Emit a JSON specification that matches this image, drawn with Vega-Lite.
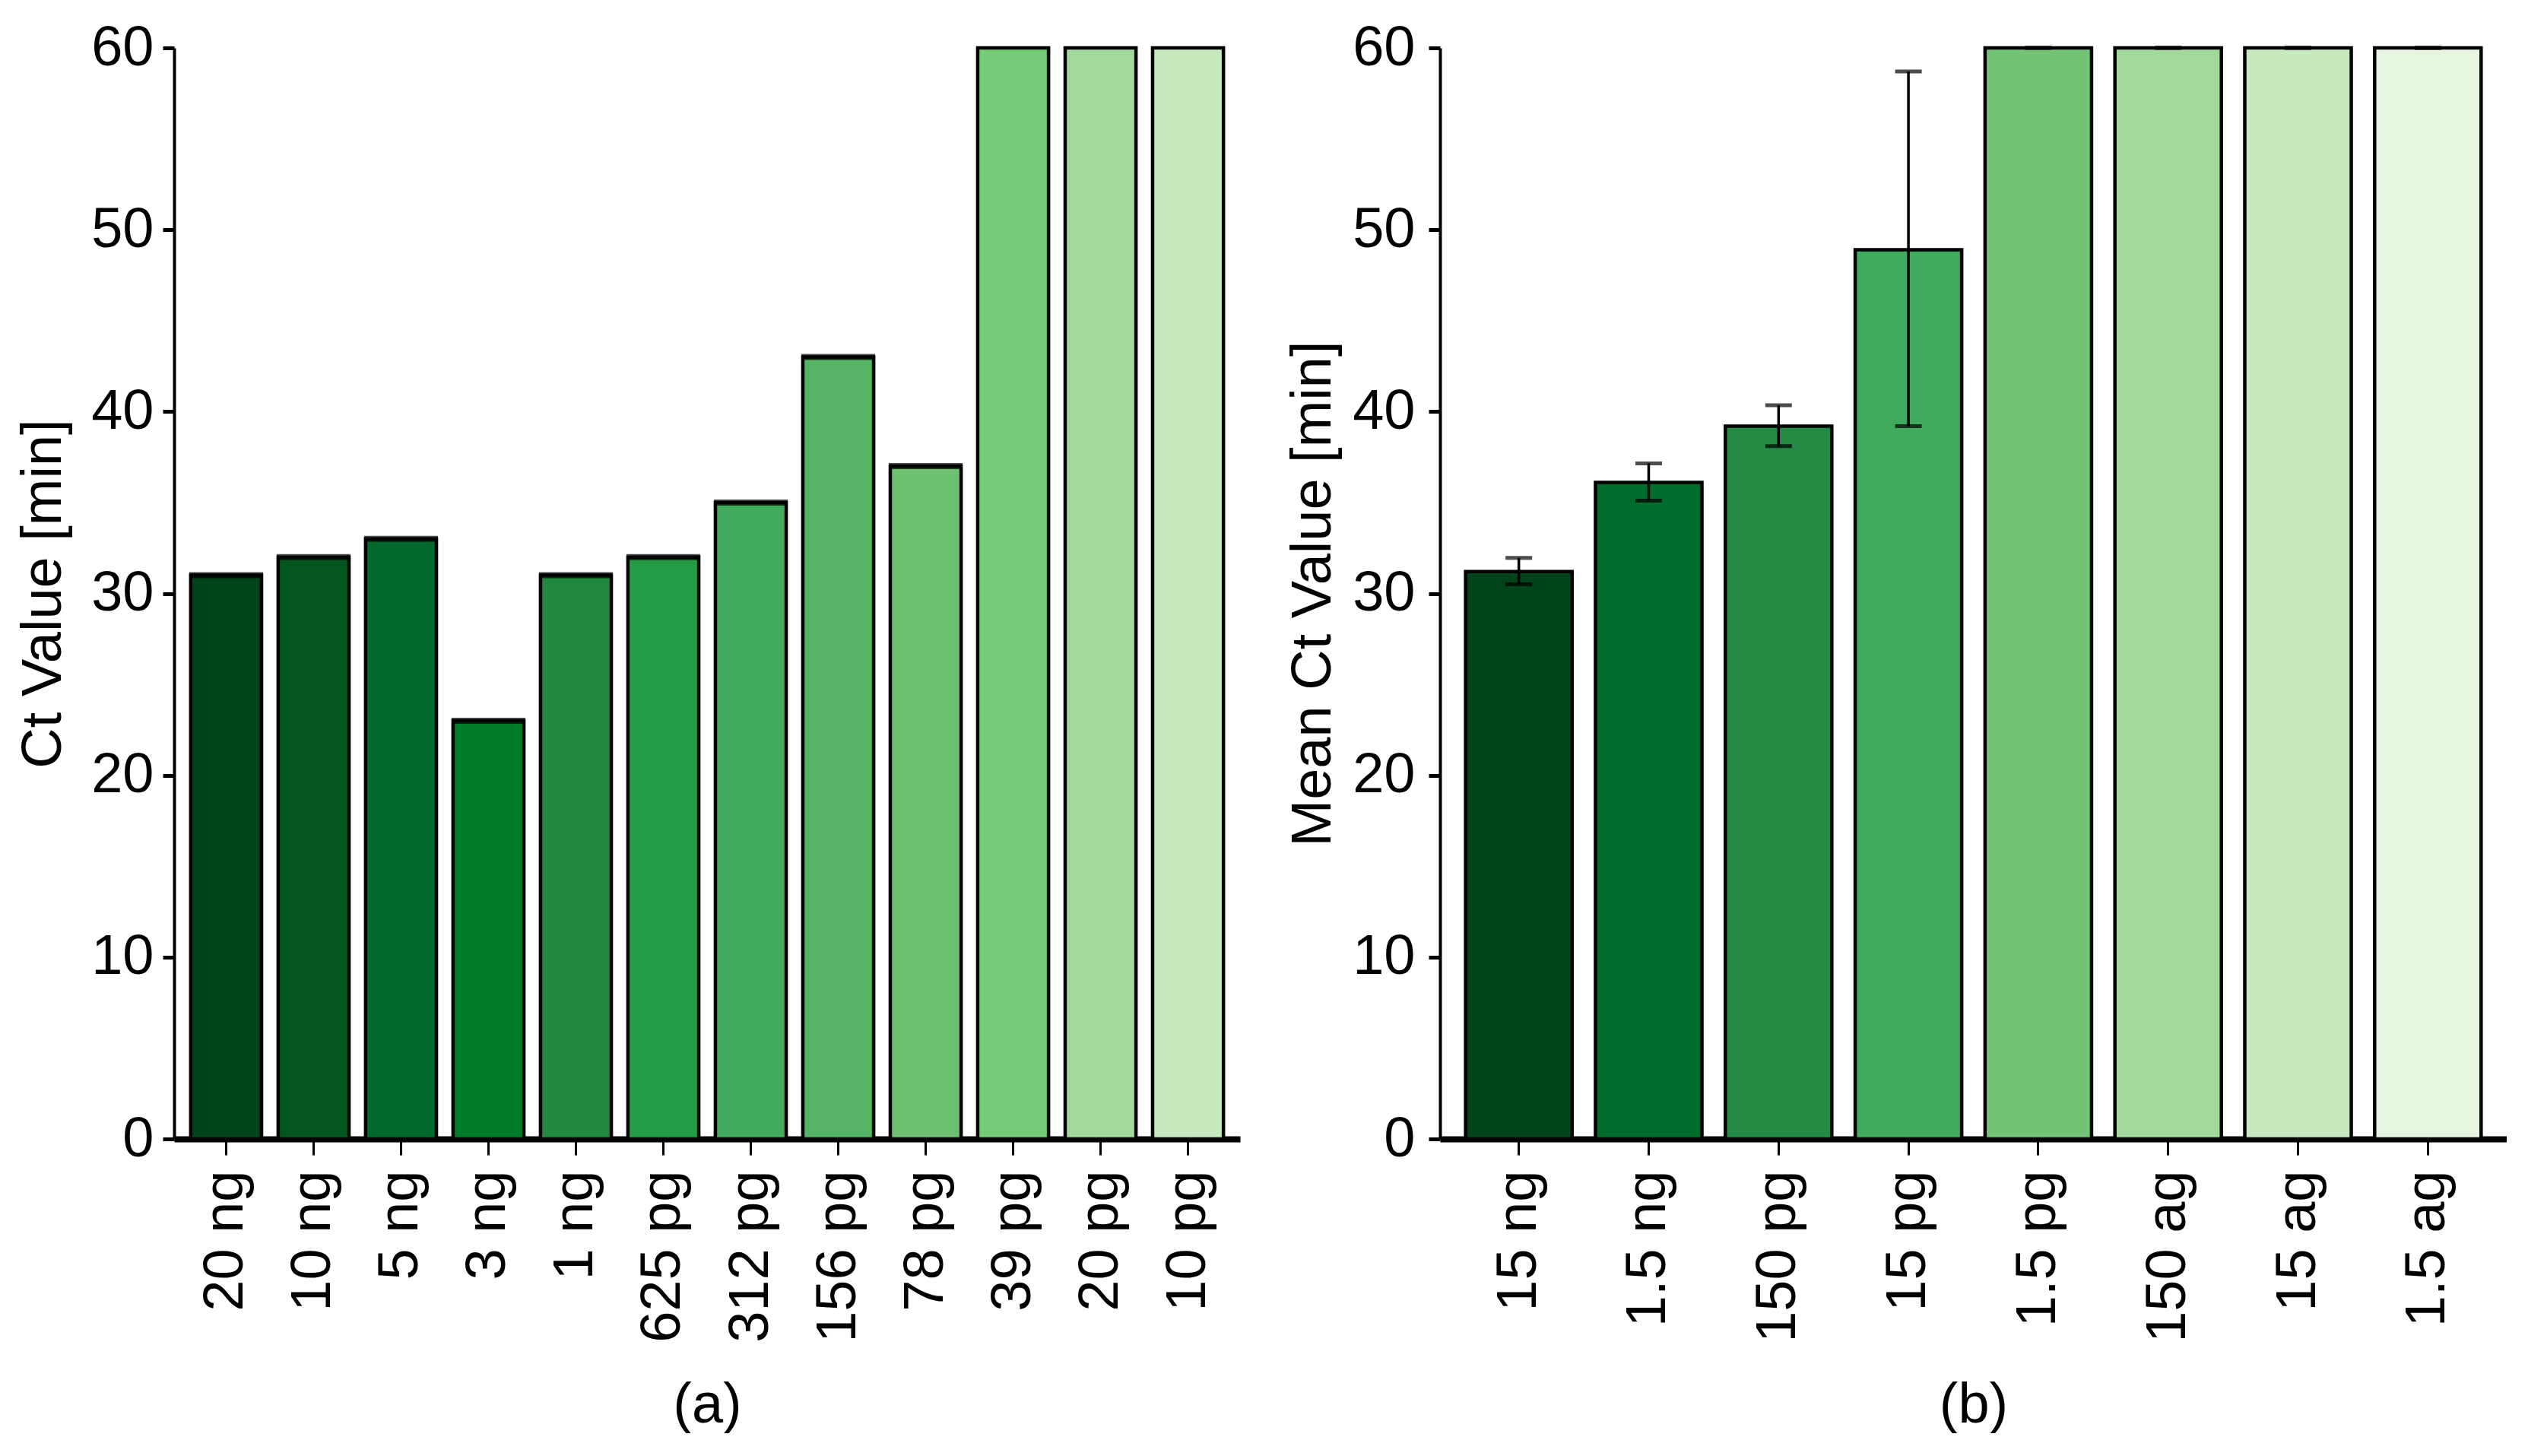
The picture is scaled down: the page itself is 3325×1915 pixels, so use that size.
{
  "$schema": "https://vega.github.io/schema/vega-lite/v6.json",
  "padding": {"left": 20, "top": 26, "right": 0, "bottom": 0},
  "background": "white",
  "config": {
    "font": "Liberation Sans",
    "view": {"stroke": null},
    "axis": {
      "labelFont": "Liberation Sans", "titleFont": "Liberation Sans",
      "labelFontSize": 74, "titleFontSize": 74,
      "labelColor": "black", "titleColor": "black",
      "domainColor": "black", "tickColor": "black",
      "grid": false, "titleFontWeight": "normal", "labelLimit": 0
    },
    "concat": {"spacing": 59}
  },
  "resolve": {"scale": {"fill": "independent", "x": "independent", "y": "independent"}},
  "datasets": {
    "a": [
      {"amount": "20 ng", "ct": 31},
      {"amount": "10 ng", "ct": 32},
      {"amount": "5 ng", "ct": 33},
      {"amount": "3 ng", "ct": 23},
      {"amount": "1 ng", "ct": 31},
      {"amount": "625 pg", "ct": 32},
      {"amount": "312 pg", "ct": 35},
      {"amount": "156 pg", "ct": 43},
      {"amount": "78 pg", "ct": 37},
      {"amount": "39 pg", "ct": 60},
      {"amount": "20 pg", "ct": 60},
      {"amount": "10 pg", "ct": 60}
    ],
    "b": [
      {"amount": "15 ng", "ct": 31.2, "lo": 30.5, "hi": 31.95},
      {"amount": "1.5 ng", "ct": 36.1, "lo": 35.1, "hi": 37.15},
      {"amount": "150 pg", "ct": 39.2, "lo": 38.1, "hi": 40.35},
      {"amount": "15 pg", "ct": 48.9, "lo": 39.2, "hi": 58.7},
      {"amount": "1.5 pg", "ct": 60, "lo": 60, "hi": 60},
      {"amount": "150 ag", "ct": 60, "lo": 60, "hi": 60},
      {"amount": "15 ag", "ct": 60, "lo": 60, "hi": 60},
      {"amount": "1.5 ag", "ct": 60, "lo": 60, "hi": 60}
    ]
  },
  "hconcat": [
    {
      "width": 1402,
      "height": 1435,
      "data": {"name": "a"},
      "encoding": {
        "x": {
          "field": "amount", "type": "nominal", "sort": null,
          "scale": {"paddingInner": 0.19, "paddingOuter": 0.19},
          "axis": {
            "title": "(a)", "labelAngle": -90, "labelPadding": 20,
            "tickSize": 21, "tickWidth": 3, "domainWidth": 8,
            "titleY": 372, "titleBaseline": "alphabetic"
          }
        }
      },
      "layer": [
        {
          "mark": {"type": "bar", "stroke": "black", "strokeWidth": 4.5},
          "encoding": {
            "y": {
              "field": "ct", "type": "quantitative",
              "scale": {"domain": [0, 60], "nice": false},
              "axis": {
                "title": "Ct Value [min]", "values": [0, 10, 20, 30, 40, 50, 60],
                "tickSize": 15, "tickWidth": 5, "domainWidth": 4,
                "labelPadding": 12, "titlePadding": 24
              }
            },
            "fill": {
              "field": "amount", "type": "nominal", "legend": null,
              "scale": {
                "domain": ["20 ng", "10 ng", "5 ng", "3 ng", "1 ng", "625 pg", "312 pg", "156 pg", "78 pg", "39 pg", "20 pg", "10 pg"],
                "range": ["#00441b", "#03571e", "#006a2d", "#007b2a", "#21883f", "#249c45", "#41ab5d", "#55b365", "#6cc070", "#76cb76", "#a1d99b", "#c7e9c0"]
              }
            }
          }
        },
        {
          "transform": [{"filter": "datum.ct < 60"}],
          "mark": {"type": "tick", "color": "black", "thickness": 8, "size": 97},
          "encoding": {"y": {"field": "ct", "type": "quantitative"}}
        }
      ]
    },
    {
      "width": 1403,
      "height": 1435,
      "data": {"name": "b"},
      "encoding": {
        "x": {
          "field": "amount", "type": "nominal", "sort": null,
          "scale": {"paddingInner": 0.18, "paddingOuter": 0.197},
          "axis": {
            "title": "(b)", "labelAngle": -90, "labelPadding": 20,
            "tickSize": 21, "tickWidth": 3, "domainWidth": 8,
            "titleY": 372, "titleBaseline": "alphabetic"
          }
        }
      },
      "layer": [
        {
          "mark": {"type": "bar", "stroke": "black", "strokeWidth": 4.5},
          "encoding": {
            "y": {
              "field": "ct", "type": "quantitative",
              "scale": {"domain": [0, 60], "nice": false},
              "axis": {
                "title": "Mean Ct Value [min]", "values": [0, 10, 20, 30, 40, 50, 60],
                "tickSize": 15, "tickWidth": 5, "domainWidth": 4,
                "labelPadding": 18, "titlePadding": 13
              }
            },
            "fill": {
              "field": "amount", "type": "nominal", "legend": null,
              "scale": {
                "domain": ["15 ng", "1.5 ng", "150 pg", "15 pg", "1.5 pg", "150 ag", "15 ag", "1.5 ag"],
                "range": ["#00441b", "#006d2c", "#238b45", "#41ab5d", "#74c476", "#a1d99b", "#c7e9c0", "#e5f5e0"]
              }
            }
          }
        },
        {
          "mark": {"type": "rule", "color": "black", "strokeWidth": 3.5},
          "encoding": {
            "y": {"field": "lo", "type": "quantitative"},
            "y2": {"field": "hi"}
          }
        },
        {
          "mark": {"type": "tick", "color": "black", "thickness": 5, "size": 35},
          "encoding": {"y": {"field": "lo", "type": "quantitative"}}
        },
        {
          "mark": {"type": "tick", "color": "black", "thickness": 5, "size": 35},
          "encoding": {"y": {"field": "hi", "type": "quantitative"}}
        }
      ]
    }
  ]
}
